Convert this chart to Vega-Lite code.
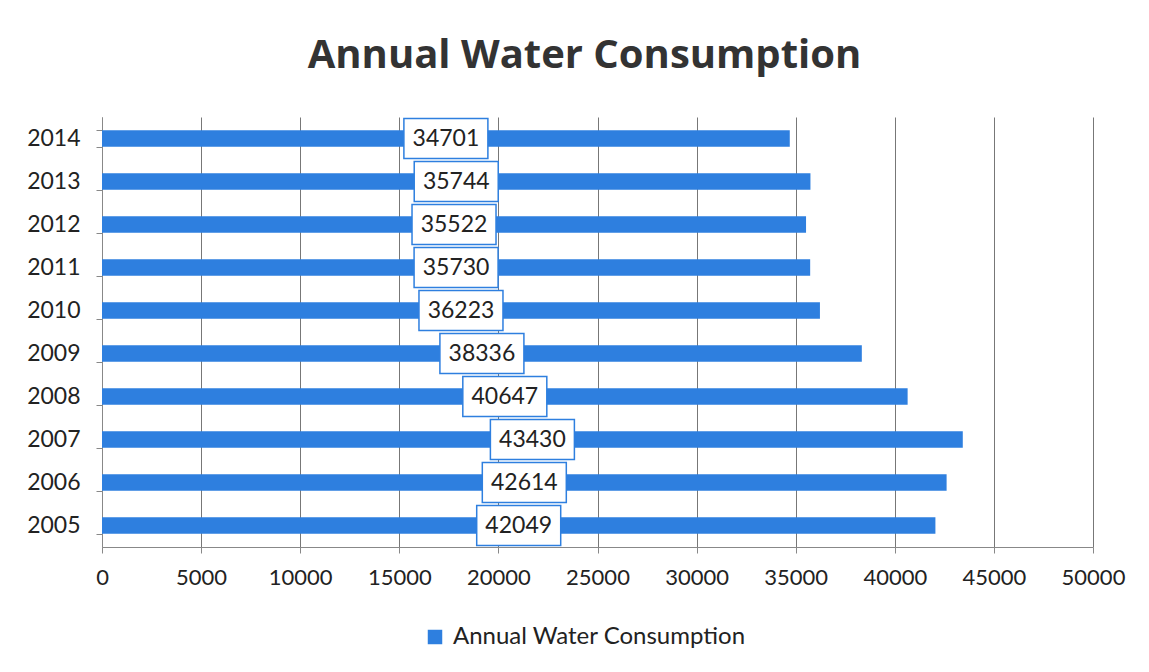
{
  "$schema": "https://vega.github.io/schema/vega-lite/v6.json",
  "width": 991,
  "height": 430,
  "autosize": {"type": "none"},
  "padding": {"left": 102, "top": 117, "right": 56, "bottom": 125},
  "background": "white",
  "title": {
    "text": "Annual Water Consumption",
    "font": "Open Sans",
    "fontSize": 40,
    "fontWeight": "bold",
    "color": "#333333",
    "anchor": "middle",
    "offset": 30,
    "dx": -13
  },
  "data": {
    "values": [
      {"year": "2005", "consumption": 42049},
      {"year": "2006", "consumption": 42614},
      {"year": "2007", "consumption": 43430},
      {"year": "2008", "consumption": 40647},
      {"year": "2009", "consumption": 38336},
      {"year": "2010", "consumption": 36223},
      {"year": "2011", "consumption": 35730},
      {"year": "2012", "consumption": 35522},
      {"year": "2013", "consumption": 35744},
      {"year": "2014", "consumption": 34701}
    ]
  },
  "encoding": {
    "y": {
      "field": "year",
      "type": "ordinal",
      "sort": "descending",
      "scale": {"paddingInner": 0.62, "paddingOuter": 0.31},
      "axis": {
        "title": null,
        "labelFont": "Lato",
        "labelFontSize": 23,
        "labelColor": "#222222",
        "labelPadding": 16,
        "tickSize": 6,
        "tickBand": "extent",
        "tickColor": "#888888",
        "domainColor": "#888888",
        "grid": false
      }
    }
  },
  "layer": [
    {
      "mark": {"type": "bar", "color": "#2E7FDF"},
      "encoding": {
        "x": {
          "field": "consumption",
          "type": "quantitative",
          "scale": {"domain": [0, 50000], "nice": false},
          "axis": {
            "title": null,
            "values": [0, 5000, 10000, 15000, 20000, 25000, 30000, 35000, 40000, 45000, 50000],
            "format": "d",
            "labelFont": "Lato",
            "labelFontSize": 22,
            "labelColor": "#222222",
            "labelPadding": 14,
            "tickSize": 6,
            "tickColor": "#888888",
            "domainColor": "#888888",
            "grid": true,
            "gridColor": "#777777",
            "gridWidth": 1,
            "labelFlush": false
          }
        },
        "color": {
          "datum": "Annual Water Consumption",
          "type": "nominal",
          "scale": {"range": ["#2E7FDF"]},
          "legend": {
            "title": null,
            "orient": "none",
            "legendX": 321,
            "legendY": 508,
            "direction": "horizontal",
            "symbolType": "square",
            "symbolSize": 210,
            "symbolStrokeWidth": 0,
            "labelFont": "Lato",
            "labelFontSize": 24,
            "labelColor": "#222222",
            "labelOffset": 6,
            "labelLimit": 0
          }
        }
      }
    },
    {
      "mark": {
        "type": "point",
        "shape": "M-1,-0.476H1V0.476H-1Z",
        "size": 7056,
        "filled": false,
        "fill": "white",
        "fillOpacity": 1,
        "stroke": "#2E7FDF",
        "strokeWidth": 1.5,
        "opacity": 1
      },
      "encoding": {
        "x": {
          "field": "consumption",
          "type": "quantitative",
          "scale": {"domain": [0, 100000], "nice": false},
          "axis": null
        }
      }
    },
    {
      "mark": {
        "type": "text",
        "font": "Lato",
        "fontSize": 23,
        "color": "#222222",
        "align": "center",
        "baseline": "middle"
      },
      "encoding": {
        "x": {
          "field": "consumption",
          "type": "quantitative",
          "scale": {"domain": [0, 100000], "nice": false},
          "axis": null
        },
        "text": {"field": "consumption", "type": "quantitative", "format": "d"}
      }
    }
  ],
  "resolve": {"scale": {"x": "independent"}},
  "config": {"view": {"stroke": null}}
}
